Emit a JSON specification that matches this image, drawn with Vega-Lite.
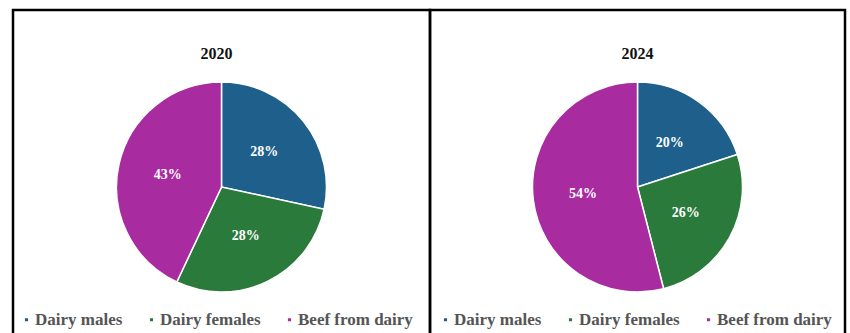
{
  "$schema": "https://vega.github.io/schema/vega-lite/v6.json",
  "padding": {"left": 11, "top": 8, "right": 0, "bottom": 0},
  "background": "white",
  "spacing": 0,
  "bounds": "flush",
  "config": {
    "view": {"stroke": "black", "strokeWidth": 2.5},
    "font": "Liberation Serif",
    "title": {"font": "Liberation Serif", "fontSize": 16, "fontWeight": "bold", "color": "#111", "offset": -52},
    "legend": {
      "orient": "none", "direction": "horizontal", "title": null,
      "labelFont": "Liberation Serif", "labelFontSize": 17, "labelFontWeight": "bold", "labelColor": "#555",
      "symbolType": "square", "symbolSize": 22, "columnPadding": 20, "labelOffset": 0
    }
  },
  "datasets": {
    "pies": [
      {"year": "2020", "category": "Dairy males", "order": 1, "value": 28.4, "label": "28%"},
      {"year": "2020", "category": "Dairy females", "order": 2, "value": 28.6, "label": "28%"},
      {"year": "2020", "category": "Beef from dairy", "order": 3, "value": 43, "label": "43%"},
      {"year": "2024", "category": "Dairy males", "order": 1, "value": 20, "label": "20%"},
      {"year": "2024", "category": "Dairy females", "order": 2, "value": 26, "label": "26%"},
      {"year": "2024", "category": "Beef from dairy", "order": 3, "value": 54, "label": "54%"}
    ]
  },
  "hconcat": [
    {
      "width": 417, "height": 354,
      "view": {"stroke": "black", "strokeWidth": 2.5},
      "title": {"text": "2020", "dx": -5},
      "data": {"name": "pies"},
      "transform": [{"filter": "datum.year === '2020'"}],
      "layer": [
        {
          "mark": {"type": "arc", "outerRadius": 105, "stroke": "white", "strokeWidth": 1.5},
          "encoding": {
            "theta": {"field": "value", "type": "quantitative", "stack": true},
            "order": {"field": "order", "type": "quantitative"},
            "color": {
              "field": "category", "type": "nominal",
              "scale": {"domain": ["Dairy males", "Dairy females", "Beef from dairy"], "range": ["#1f5f8c", "#2a7a3c", "#a82ba0"]},
              "legend": {"legendX": 5, "legendY": 301, "labelFont": "Liberation Serif"}
            }
          }
        },
        {
          "mark": {"type": "text", "radius": 55, "font": "Liberation Serif", "fontSize": 14, "fontWeight": "bold", "color": "white"},
          "encoding": {
            "theta": {"field": "value", "type": "quantitative", "stack": true},
            "order": {"field": "order", "type": "quantitative"},
            "text": {"field": "label", "type": "nominal"}
          }
        }
      ]
    },
    {
      "width": 415, "height": 354,
      "view": {"stroke": "black", "strokeWidth": 2.5},
      "title": {"text": "2024"},
      "data": {"name": "pies"},
      "transform": [{"filter": "datum.year === '2024'"}],
      "layer": [
        {
          "mark": {"type": "arc", "outerRadius": 105, "stroke": "white", "strokeWidth": 1.5},
          "encoding": {
            "theta": {"field": "value", "type": "quantitative", "stack": true},
            "order": {"field": "order", "type": "quantitative"},
            "color": {
              "field": "category", "type": "nominal",
              "scale": {"domain": ["Dairy males", "Dairy females", "Beef from dairy"], "range": ["#1f5f8c", "#2a7a3c", "#a82ba0"]},
              "legend": {"legendX": 7, "legendY": 301, "labelFont": "Liberation Serif"}
            }
          }
        },
        {
          "mark": {"type": "text", "radius": 55, "font": "Liberation Serif", "fontSize": 14, "fontWeight": "bold", "color": "white"},
          "encoding": {
            "theta": {"field": "value", "type": "quantitative", "stack": true},
            "order": {"field": "order", "type": "quantitative"},
            "text": {"field": "label", "type": "nominal"}
          }
        }
      ]
    }
  ],
  "resolve": {"scale": {"color": "independent"}, "legend": {"color": "independent"}}
}
